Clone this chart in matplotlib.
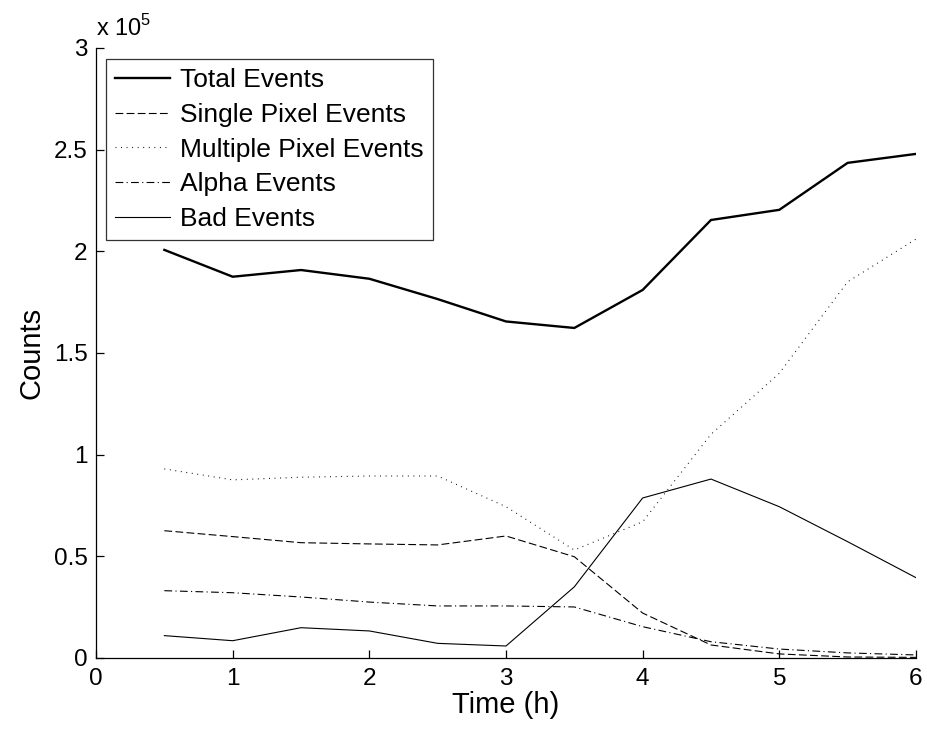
import matplotlib
matplotlib.use("Agg")
import matplotlib.pyplot as plt
from matplotlib.ticker import FuncFormatter

plt.rcParams['font.family'] = ['Liberation Sans', 'DejaVu Sans']
plt.rcParams['mathtext.fontset'] = 'custom'
plt.rcParams['mathtext.rm'] = 'Liberation Sans'

# time in hours
hours = [0.5, 1.0, 1.5, 2.0, 2.5, 3.0, 3.5, 4.0, 4.5, 5.0, 5.5, 6.0]

# counts
total_events = [200700, 187500, 190800, 186500, 176500, 165500, 162300, 181000, 215400, 220400, 243500, 247900]
single_pixel = [62600, 59700, 56700, 56100, 55600, 60000, 49800, 22100, 6400, 2000, 500, 300]
multi_pixel = [93000, 87600, 88900, 89500, 89500, 74400, 53100, 67000, 110000, 140000, 185000, 206000]
alpha_events = [33100, 32100, 30000, 27500, 25600, 25600, 25100, 15400, 8000, 4400, 2500, 1500]
bad_events = [11000, 8500, 14900, 13300, 7200, 5900, 35000, 78700, 88000, 74400, 57200, 39500]

fig = plt.figure(figsize=(9.27, 7.29), dpi=100)
ax = fig.add_axes([0.1036, 0.0974, 0.8845, 0.8368])

ax.plot(hours, total_events, color='black', lw=1.7, label='Total Events')
ax.plot(hours, single_pixel, color='black', lw=0.8, dashes=(7, 3), label='Single Pixel Events')
ax.plot(hours, multi_pixel, color='black', lw=0.8, dashes=(0.8, 4.2), label='Multiple Pixel Events')
ax.plot(hours, alpha_events, color='black', lw=0.8, dashes=(7, 3, 1, 3), label='Alpha Events')
ax.plot(hours, bad_events, color='black', lw=0.8, label='Bad Events')

ax.set_xlim(0, 6)
ax.set_ylim(0, 300000)
ax.set_xticks(range(0, 7))
ax.set_yticks([0, 50000, 100000, 150000, 200000, 250000, 300000])
ax.yaxis.set_major_formatter(FuncFormatter(lambda v, p: '%g' % (v / 1e5)))

for s in ['top', 'right']:
    ax.spines[s].set_visible(False)
for s in ['left', 'bottom']:
    ax.spines[s].set_linewidth(0.9)

ax.tick_params(direction='in', length=5.5, width=0.9, labelsize=17.5, pad=6)
ax.tick_params(axis='x', pad=7)

ax.set_xlabel('Time (h)', fontsize=21, labelpad=1)
ax.set_ylabel('Counts', fontsize=21, labelpad=6)

ax.text(0.0, 1.012, r'x 10$^{5}$', transform=ax.transAxes, fontsize=17,
        ha='left', va='bottom')

leg = ax.legend(loc='upper left', bbox_to_anchor=(0.012, 0.982), fontsize=19,
                frameon=True, fancybox=False, edgecolor='black', handlelength=2.1,
                handletextpad=0.38, labelspacing=0.41, borderpad=0.34,
                borderaxespad=0)
leg.get_frame().set_linewidth(0.9)

fig.savefig('out.png', dpi=100)
